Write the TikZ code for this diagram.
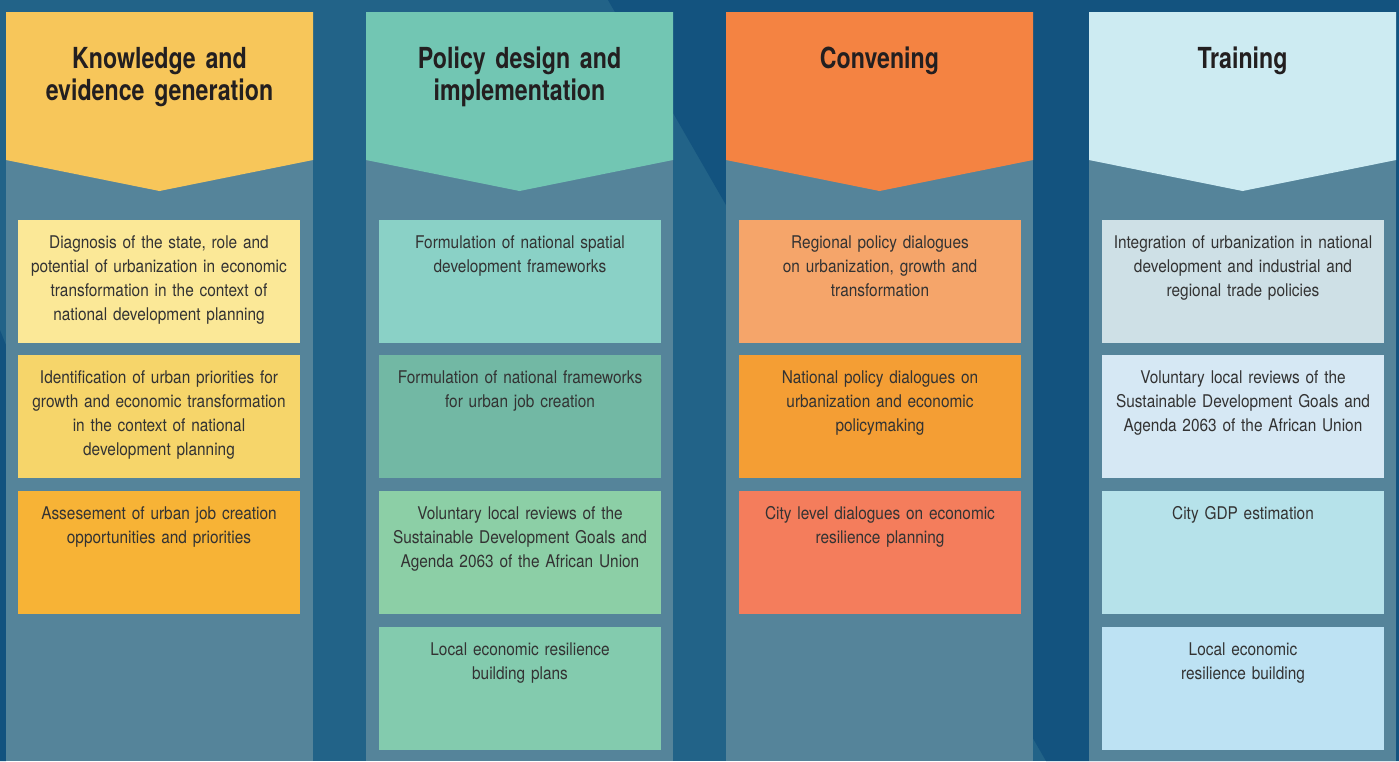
\documentclass[tikz,border=0pt]{standalone}
\usepackage{fontspec}
\setmainfont{TeX Gyre Heros}[FakeStretch=0.88]
\newfontfamily\titlefont{TeX Gyre Heros}[FakeStretch=0.8]
\definecolor{bgblue}{HTML}{226388}
\definecolor{bgdark}{HTML}{13537F}
\definecolor{colbody}{HTML}{55849A}
\definecolor{headtxt}{HTML}{231F20}
\definecolor{boxtxt}{HTML}{333333}
% knowledge
\definecolor{kkhead}{HTML}{F7C65A}
\definecolor{kkone}{HTML}{FBE897}
\definecolor{kktwo}{HTML}{F6D56A}
\definecolor{kkthree}{HTML}{F7B336}
% policy
\definecolor{pphead}{HTML}{72C6B3}
\definecolor{ppone}{HTML}{8AD1C6}
\definecolor{pptwo}{HTML}{72B8A4}
\definecolor{ppthree}{HTML}{8CCFA6}
\definecolor{ppfour}{HTML}{83CBAE}
% convening
\definecolor{cchead}{HTML}{F48342}
\definecolor{ccone}{HTML}{F5A56A}
\definecolor{cctwo}{HTML}{F49E34}
\definecolor{ccthree}{HTML}{F47D5C}
% training
\definecolor{tthead}{HTML}{CDEBF2}
\definecolor{ttone}{HTML}{CEE0E6}
\definecolor{tttwo}{HTML}{D6E8F4}
\definecolor{ttthree}{HTML}{B6E2EA}
\definecolor{ttfour}{HTML}{BDE2F3}

\begin{document}
\begin{tikzpicture}[x=1pt,y=-1pt,
		title/.style={anchor=north, inner sep=0pt, text width=290pt, align=center,
			text height=56pt, text depth=40pt, text=headtxt,
			font=\titlefont\fontsize{29}{32}\selectfont\bfseries},
		item/.style={fill=#1, anchor=north, inner sep=0pt, text width=282pt, align=center,
			text height=28pt, text depth=95pt, text=boxtxt,
			font=\fontsize{17.5}{24}\selectfont}]
			% background
			\fill [bgblue] (0,0) rectangle (1399,761);
			\fill [bgdark] (608,0) -- (1399,0) -- (1399,761) -- (1046,761) -- cycle;
			\fill [bgdark] (0,330) -- (6,345) -- (6,761) -- (0,761) -- cycle;
			% columns
			\fill [colbody] (6,12) rectangle (313,761);
			\fill [colbody] (366,12) rectangle (673,761);
			\fill [colbody] (726,12) rectangle (1033,761);
			\fill [colbody] (1089,12) rectangle (1396,761);
			% headers
			\fill [kkhead] (6,12) -- (313,12) -- (313,160) -- (159.5,191) -- (6,160) -- cycle;
			\fill [pphead] (366,12) -- (673,12) -- (673,160) -- (519.5,191) -- (366,160) -- cycle;
			\fill [cchead] (726,12) -- (1033,12) -- (1033,160) -- (879.5,191) -- (726,160) -- cycle;
			\fill [tthead] (1089,12) -- (1396,12) -- (1396,160) -- (1242.5,191) -- (1089,160) -- cycle;
			\node [title] (know) at (159.5,12) {Knowledge and\\evidence generation};
			\node [title] (policy) at (519.5,12) {Policy design and\\implementation};
			\node [title] (conv) at (879.5,12) {Convening};
			\node [title] (train) at (1242.5,12) {Training};
			% knowledge boxes
			\node [item=kkone] (k1) at (159,220) {Diagnosis of the state, role and\\potential of urbanization in economic\\transformation in the context of\\national development planning};
			\node [item=kktwo] (k2) at (159,355) {Identification of urban priorities for\\growth and economic transformation\\in the context of national\\development planning};
			\node [item=kkthree] (k3) at (159,491) {Assesement of urban job creation\\opportunities and priorities};
			% policy boxes
			\node [item=ppone] (p1) at (520,220) {Formulation of national spatial\\development frameworks};
			\node [item=pptwo] (p2) at (520,355) {Formulation of national frameworks\\for urban job creation};
			\node [item=ppthree] (p3) at (520,491) {Voluntary local reviews of the\\Sustainable Development Goals and\\Agenda 2063 of the African Union};
			\node [item=ppfour] (p4) at (520,627) {Local economic resilience\\building plans};
			% convening boxes
			\node [item=ccone] (c1) at (880,220) {Regional policy dialogues\\on urbanization, growth and\\transformation};
			\node [item=cctwo] (c2) at (880,355) {National policy dialogues on\\urbanization and economic\\policymaking};
			\node [item=ccthree] (c3) at (880,491) {City level dialogues on economic\\resilience planning};
			% training boxes
			\node [item=ttone] (t1) at (1243,220) {Integration of urbanization in national\\development and industrial and\\regional trade policies};
			\node [item=tttwo] (t2) at (1243,355) {Voluntary local reviews of the\\Sustainable Development Goals and\\Agenda 2063 of the African Union};
			\node [item=ttthree] (t3) at (1243,491) {City GDP estimation};
			\node [item=ttfour] (t4) at (1243,627) {Local economic\\resilience building};
\end{tikzpicture}
\end{document}
